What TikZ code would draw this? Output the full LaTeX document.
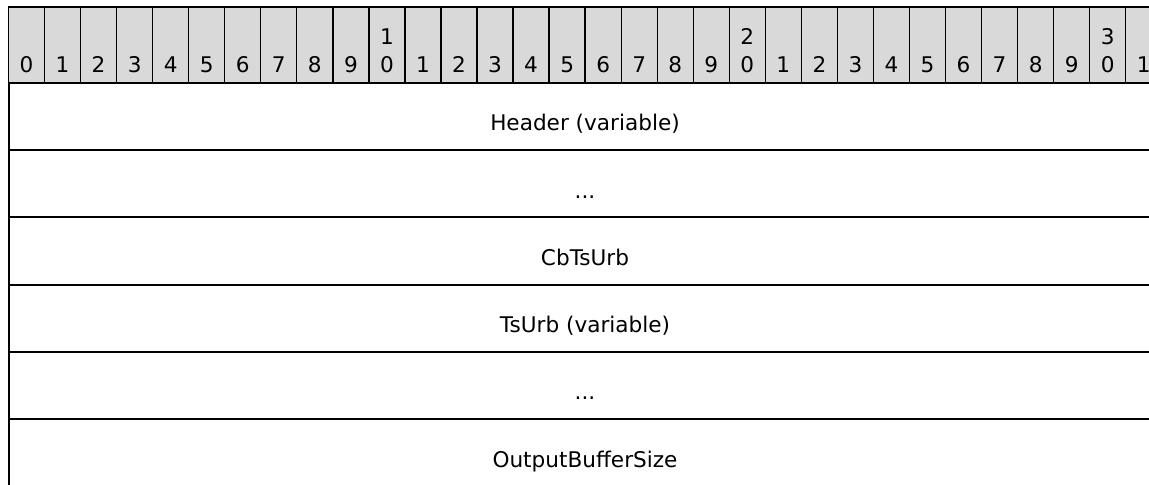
\documentclass[tikz,border=0pt]{standalone}
\usepackage{fontspec}
\setmainfont{DejaVu Sans}
\definecolor{bitgrey}{RGB}{217,217,217}
\begin{document}
\begin{tikzpicture}[x=0.75pt,y=-0.75pt,
    bitcell/.style={draw=black, fill=bitgrey, line width=1pt},
    fieldrow/.style={draw=black, line width=1.5pt},
    lbl/.style={anchor=base, inner sep=0pt, font=\fontsize{16.2}{19}\selectfont}]
  \useasboundingbox (0,0) rectangle (1149,485);
  \clip (0,0) rectangle (1149,485);

  % Bitnummer i toppen (tiere bare ved 10, 20, 30)
  \foreach \i in {0,...,31} {
    \pgfmathsetmacro{\xl}{8.5+36.04*\i}
    \pgfmathsetmacro{\xc}{\xl+18.02}
    \pgfmathtruncatemacro{\tens}{\i/10}
    \pgfmathtruncatemacro{\ones}{mod(\i,10)}
    \draw[bitcell] (\xl,7) rectangle ++(36.04,75.7);
    \node[lbl] (b\i) at (\xc,73) {\ones};
    \ifnum\i>9 \ifnum\ones=0
      \node[lbl] (t\i) at (\xc,45) {\tens};
    \fi\fi
  }

  % Felter (ett per rad)
  \foreach \k in {0,...,5} {
    \draw[fieldrow] (8.5,{82.7+67.3*\k}) rectangle ++(1153.3,67.3);
  }

  % Tekst i feltene
  \node[lbl] (hdr)    at (585,130.7) {Header (variable)};
  \node[lbl] (gapa)   at (585,198.0) {...};
  \node[lbl] (cbts)   at (585,265.3) {CbTsUrb};
  \node[lbl] (tsurb)  at (585,332.6) {TsUrb (variable)};
  \node[lbl] (gapb)   at (585,399.9) {...};
  \node[lbl] (outbuf) at (585,467.2) {OutputBufferSize};
\end{tikzpicture}
\end{document}
